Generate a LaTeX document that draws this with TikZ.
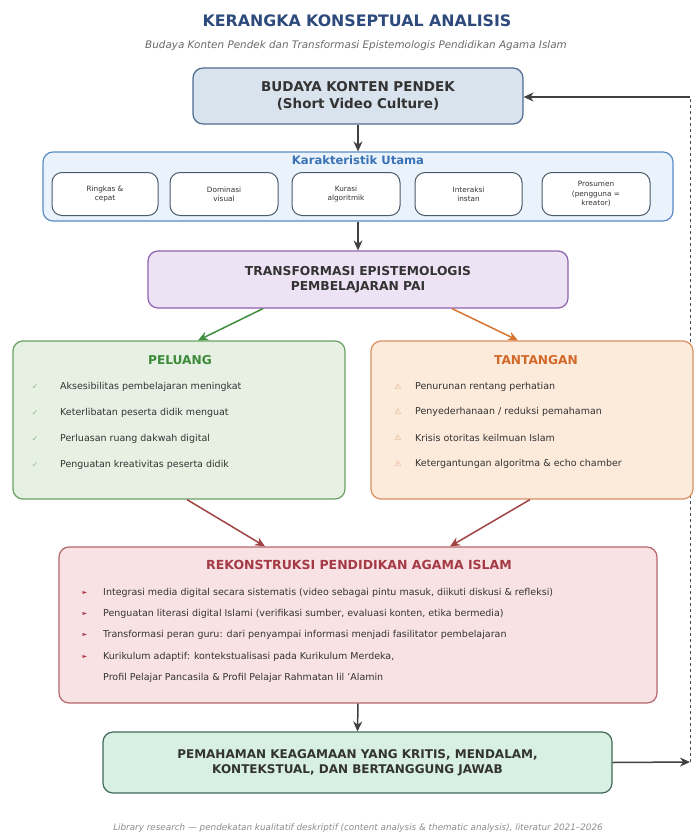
\documentclass[tikz,border=0pt]{standalone}
\usepackage{fontspec}
\setmainfont{DejaVu Sans}
\usetikzlibrary{arrows.meta}
\definecolor{ttl}{HTML}{2E4A7D}
\definecolor{sub}{HTML}{6A6A6A}
\definecolor{bAf}{HTML}{D9E3EE}\definecolor{bAd}{HTML}{4F6D8F}
\definecolor{kf}{HTML}{EAF3FC}\definecolor{kd}{HTML}{5B8BC5}\definecolor{kt}{HTML}{3A72B5}
\definecolor{cd}{HTML}{4A5A6A}
\definecolor{tf}{HTML}{EEE3F5}\definecolor{td}{HTML}{8E63AE}
\definecolor{pf}{HTML}{E6F1E4}\definecolor{pd}{HTML}{6AA063}\definecolor{pt}{HTML}{3C8A3A}
\definecolor{nf}{HTML}{FCEADB}\definecolor{nd}{HTML}{D89060}\definecolor{nt}{HTML}{D0692A}
\definecolor{rf}{HTML}{F9E2E4}\definecolor{rd}{HTML}{B5676B}\definecolor{rt}{HTML}{A33A45}
\definecolor{ff}{HTML}{D8EFE3}\definecolor{fd}{HTML}{416B58}
\definecolor{txt}{HTML}{333333}
\definecolor{ga}{HTML}{3F8F3F}\definecolor{oa}{HTML}{D9742F}\definecolor{ra}{HTML}{A04444}
\tikzset{
  box/.style={draw, rounded corners=10pt, line width=1.2pt, inner sep=0pt, align=center},
  card/.style={box, fill=white, draw=cd, line width=1pt, minimum height=43pt, font=\fontsize{7.3}{9.3}\selectfont, text=txt},
  arr/.style={-{Stealth[length=10pt,width=9pt]}, line width=1.5pt, draw=black!75},
  item/.style={anchor=west, inner sep=0pt, font=\fontsize{9.5}{11}\selectfont, text=txt},
  ico/.style={anchor=center, inner sep=0pt, font=\fontsize{8}{9}\selectfont},
  rbul/.style={ico, text=rt, font=\fontsize{6}{7}\selectfont},
  hd/.style={inner sep=0pt, font=\bfseries\fontsize{12.2}{14}\selectfont},
}
\begin{document}
\begin{tikzpicture}[x=1pt,y=-1pt]
\useasboundingbox[fill=white] (0,0) rectangle (694,836);
% title
\node[inner sep=0pt, text=ttl, font=\bfseries\fontsize{15.8}{18}\selectfont] (title) at (357,21) {KERANGKA KONSEPTUAL ANALISIS};
\node[inner sep=0pt, text=sub, font=\itshape\fontsize{10.4}{12}\selectfont] (subtitle) at (356,46) {Budaya Konten Pendek dan Transformasi Epistemologis Pendidikan Agama Islam};
% feedback dashed line (drawn first, behind boxes)
\coordinate (fr) at (690,762);
\coordinate (tr) at (690,97);
\draw[dashed, line width=1pt, draw=black!70] (fr) -- (tr);
% box 1
\node[box, fill=bAf, draw=bAd, minimum width=330pt, minimum height=56pt, font=\bfseries\fontsize{13.5}{16.5}\selectfont, text=txt] (budaya) at (358,96) {BUDAYA KONTEN PENDEK\\(Short Video Culture)};
% karakteristik
\node[box, fill=kf, draw=kd, minimum width=630pt, minimum height=69pt] (kar) at (358,186.5) {};
\node[inner sep=0pt, text=kt, font=\bfseries\fontsize{11.6}{13}\selectfont] (kartitle) at (358,160) {Karakteristik Utama};
\node[card, minimum width=106pt] (c1) at (105,194) {Ringkas \&\\cepat};
\node[card, minimum width=108pt] (c2) at (224,194) {Dominasi\\visual};
\node[card, minimum width=108pt] (c3) at (346,194) {Kurasi\\algoritmik};
\node[card, minimum width=107pt] (c4) at (468.5,194) {Interaksi\\instan};
\node[card, minimum width=108pt] (c5) at (596,194) {Prosumen\\(pengguna =\\kreator)};
% transformasi
\node[box, fill=tf, draw=td, minimum width=420pt, minimum height=57pt, font=\bfseries\fontsize{12.3}{15}\selectfont, text=txt] (trans) at (358,279.5) {TRANSFORMASI EPISTEMOLOGIS\\PEMBELAJARAN PAI};
% peluang
\node[box, fill=pf, draw=pd, minimum width=332pt, minimum height=158pt] (pel) at (179,420) {};
\node[hd, text=pt] (peltitle) at (180,360) {PELUANG};
\node[ico, text=pd!75] (pc1) at (35,387) {✓};
\node[item] (pi1) at (60,387) {Aksesibilitas pembelajaran meningkat};
\node[ico, text=pd!75] (pc2) at (35,413) {✓};
\node[item] (pi2) at (60,413) {Keterlibatan peserta didik menguat};
\node[ico, text=pd!75] (pc3) at (35,439) {✓};
\node[item] (pi3) at (60,439) {Perluasan ruang dakwah digital};
\node[ico, text=pd!75] (pc4) at (35,465) {✓};
\node[item] (pi4) at (60,465) {Penguatan kreativitas peserta didik};
% tantangan
\node[box, fill=nf, draw=nd, minimum width=322pt, minimum height=158pt] (tan) at (532,420) {};
\node[hd, text=nt] (tantitle) at (536,360) {TANTANGAN};
\node[ico, text=nd!75] (tc1) at (398,387) {⚠};
\node[item] (ti1) at (415,387) {Penurunan rentang perhatian};
\node[ico, text=nd!75] (tc2) at (398,412) {⚠};
\node[item] (ti2) at (415,412) {Penyederhanaan / reduksi pemahaman};
\node[ico, text=nd!75] (tc3) at (398,438) {⚠};
\node[item] (ti3) at (415,438) {Krisis otoritas keilmuan Islam};
\node[ico, text=nd!75] (tc4) at (398,464) {⚠};
\node[item] (ti4) at (415,464) {Ketergantungan algoritma \& echo chamber};
% rekonstruksi
\node[box, fill=rf, draw=rd, minimum width=598pt, minimum height=156pt] (rek) at (358,625) {};
\node[hd, text=rt, font=\bfseries\fontsize{12.5}{14}\selectfont] (rektitle) at (359,565) {REKONSTRUKSI PENDIDIKAN AGAMA ISLAM};
\node[rbul] (rb1) at (85,593) {►};
\node[item] (ri1) at (103,593) {Integrasi media digital secara sistematis (video sebagai pintu masuk, diikuti diskusi \& refleksi)};
\node[rbul] (rb2) at (85,614) {►};
\node[item] (ri2) at (103,614) {Penguatan literasi digital Islami (verifikasi sumber, evaluasi konten, etika bermedia)};
\node[rbul] (rb3) at (85,635) {►};
\node[item] (ri3) at (103,635) {Transformasi peran guru: dari penyampai informasi menjadi fasilitator pembelajaran};
\node[rbul] (rb4) at (85,657) {►};
\node[item] (ri4) at (103,657) {Kurikulum adaptif: kontekstualisasi pada Kurikulum Merdeka,};
\node[item] (ri5) at (103,678) {Profil Pelajar Pancasila \& Profil Pelajar Rahmatan lil 'Alamin};
% final
\node[box, fill=ff, draw=fd, minimum width=509pt, minimum height=61pt, font=\bfseries\fontsize{12}{15}\selectfont, text=txt] (fin) at (357.5,762.5) {PEMAHAMAN KEAGAMAAN YANG KRITIS, MENDALAM,\\KONTEKSTUAL, DAN BERTANGGUNG JAWAB};
% footer
\node[inner sep=0pt, text=black!45, font=\itshape\fontsize{8.8}{10}\selectfont] (foot) at (358,828) {Library research — pendekatan kualitatif deskriptif (content analysis \& thematic analysis), literatur 2021–2026};
% connectors
\draw[arr] (budaya.south) -- (kar.north);
\draw[arr] (kar.south) -- (trans.north);
\draw[arr, draw=ga] (trans.south -| 263,0) -- (pel.north -| 198,0);
\draw[arr, draw=oa] (trans.south -| 452,0) -- (tan.north -| 518,0);
\draw[arr, draw=ra] (pel.south -| 187,0) -- (rek.north -| 265,0);
\draw[arr, draw=ra] (tan.south -| 530,0) -- (rek.north -| 450,0);
\draw[arr] (rek.south) -- (fin.north);
\draw[arr] (fin.east) -- (fr);
\draw[arr] (tr) -- (budaya.east |- tr);
\end{tikzpicture}
\end{document}
